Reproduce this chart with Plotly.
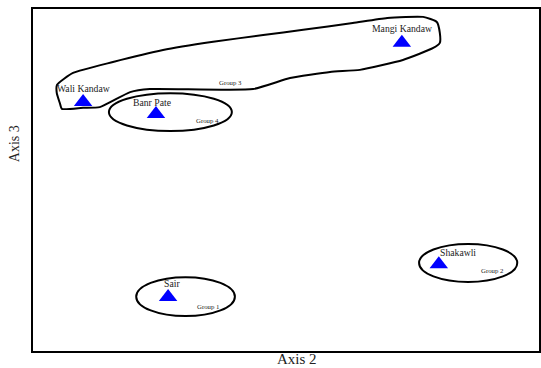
import plotly.graph_objects as go

# Sites (Axis 2, Axis 3 scores)
sites = ["Wali Kandaw", "Banr Pate", "Mangi Kandaw", "Sair", "Shakawli"]
axis2 = [9.9, 24.3, 72.9, 26.7, 80.2]
axis3 = [72.8, 69.3, 90.1, 15.8, 25.4]
label_dx = [0, -4, 0, 4, 19]
label_dy = [14, 11, 14, 13, 12]

# Group labels
groups = ["Group 3", "Group 4", "Group 1", "Group 2"]
group_x = [39.1, 34.4, 34.6, 90.9]
group_y = [78.4, 67.3, 12.9, 23.4]

# Ellipse groups (bounding boxes)
ell_x0 = [15.0, 20.4, 76.3]
ell_x1 = [39.3, 39.9, 95.7]
ell_y0 = [64.3, 10.2, 20.2]
ell_y1 = [75.4, 21.6, 31.3]

# Group 3 outline
g3_x = [4.74, 7.91, 15.8, 25.7, 35.6, 45.5, 53.4, 63.2, 70.0, 77.1, 79.8, 80.4, 80.4, 79.1,
        73.1, 64.6, 58.7, 50.8, 43.5, 23.1, 19.2, 13.2, 9.9, 5.7, 5.3, 4.7, 4.74]
g3_y = [77.8, 81.3, 84.5, 88.0, 90.4, 92.4, 93.9, 95.9, 97.4, 97.7, 96.2, 93.0, 90.1, 88.6,
        85.1, 82.2, 81.6, 79.8, 76.6, 76.6, 75.7, 71.3, 71.1, 70.8, 72.5, 75.4, 77.8]

fig = go.Figure()
fig.add_trace(go.Scatter(x=g3_x, y=g3_y, mode="lines",
                         line=dict(color="black", width=2, shape="spline", smoothing=0.5),
                         hoverinfo="skip", showlegend=False))
fig.add_trace(go.Scatter(x=axis2, y=axis3, mode="markers",
                         marker=dict(symbol="triangle-up", size=16, color="#0000FF"),
                         text=sites, showlegend=False))

for x0, x1, y0, y1 in zip(ell_x0, ell_x1, ell_y0, ell_y1):
    fig.add_shape(type="circle", xref="x", yref="y", x0=x0, x1=x1, y0=y0, y1=y1,
                  line=dict(color="black", width=2))

font_serif = "Liberation Serif, Times New Roman, serif"
for s, x, y, dx, dy in zip(sites, axis2, axis3, label_dx, label_dy):
    fig.add_annotation(x=x, y=y, text=s, showarrow=False, xshift=dx, yshift=dy,
                       font=dict(family=font_serif, size=9.7, color="#222"))
for g, x, y in zip(groups, group_x, group_y):
    fig.add_annotation(x=x, y=y, text=g, showarrow=False,
                       font=dict(family=font_serif, size=6.8, color="#222"))

fig.add_annotation(xref="paper", yref="paper", x=0.522, y=-0.0497, text="Axis 2",
                   showarrow=False, yanchor="bottom", borderpad=0,
                   font=dict(family=font_serif, size=15, color="#222"))
fig.add_annotation(xref="paper", yref="paper", x=-0.036, y=0.667, text="Axis 3",
                   showarrow=False, textangle=-90, xanchor="center",
                   font=dict(family=font_serif, size=14, color="#222"))

fig.update_xaxes(range=[0, 100], showgrid=False, zeroline=False, showticklabels=False,
                 ticks="", showline=True, linecolor="black", linewidth=2, mirror=True)
fig.update_yaxes(range=[0, 100], showgrid=False, zeroline=False, showticklabels=False,
                 ticks="", showline=True, linecolor="black", linewidth=2, mirror=True)
fig.update_layout(width=541, height=368,
                  margin=dict(l=33, r=2, t=9, b=17, autoexpand=False),
                  paper_bgcolor="white", plot_bgcolor="white")
fig.write_html("out.html", config={"displayModeBar": False},
               post_script="document.body.style.margin='0';document.body.style.overflow='hidden';")
